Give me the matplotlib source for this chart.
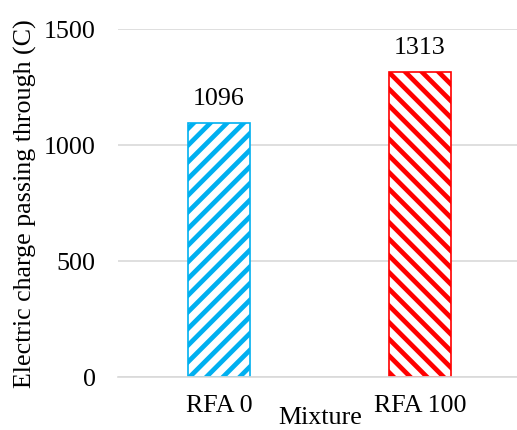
import matplotlib
matplotlib.use("Agg")
import matplotlib.pyplot as plt

categories = ["RFA 0", "RFA 100"]
values = [1096, 1313]
colors = ["#00b0f0", "#ff0000"]
hatches = ["//", "\\\\"]
yticks = [0, 500, 1000, 1500]

DPI = 100
W, H = 517, 430
plt.rcParams["font.family"] = ["Liberation Serif", "DejaVu Serif"]
plt.rcParams["hatch.linewidth"] = 3.4
FS = 18.7

fig = plt.figure(figsize=(W / DPI, H / DPI), dpi=DPI)
ax = fig.add_axes([118 / W, 53 / H, 399 / W, 348 / H])

x = list(range(len(categories)))
for xi, v, c, h in zip(x, values, colors, hatches):
    ax.bar(xi, v, width=0.31, facecolor="white", edgecolor=c, hatch=h,
           linewidth=1.2, zorder=3)
    ax.annotate(f"{v}", (xi, v), xytext=(0, 9.4), textcoords="offset points",
                ha="center", va="bottom", fontsize=FS, color="#000000")

ax.set_xlim(-0.5025, 1.483)
ax.set_ylim(0, 1500)
ax.set_yticks(yticks)
ax.set_yticklabels([str(t) for t in yticks])
ax.set_xticks(x)
ax.set_xticklabels(categories)
ax.tick_params(axis="both", length=0, labelsize=FS, colors="#000000")
ax.tick_params(axis="y", pad=16.2)
ax.tick_params(axis="x", pad=13)
ax.grid(axis="y", color="#d9d9d9", linewidth=1.2, zorder=0)
ax.set_axisbelow(True)
for s in ["top", "right", "left"]:
    ax.spines[s].set_visible(False)
ax.spines["bottom"].set_color("#d9d9d9")
ax.spines["bottom"].set_linewidth(1.2)
ax.spines["bottom"].set_zorder(4)

fig.text(320 / W, 1 - 418 / H, "Mixture", ha="center", va="center", fontsize=FS)
fig.text(25 / W, 1 - 204 / H, "Electric charge passing through (C)",
         rotation=90, ha="center", va="center", fontsize=FS)

fig.savefig("out.png", dpi=DPI)
